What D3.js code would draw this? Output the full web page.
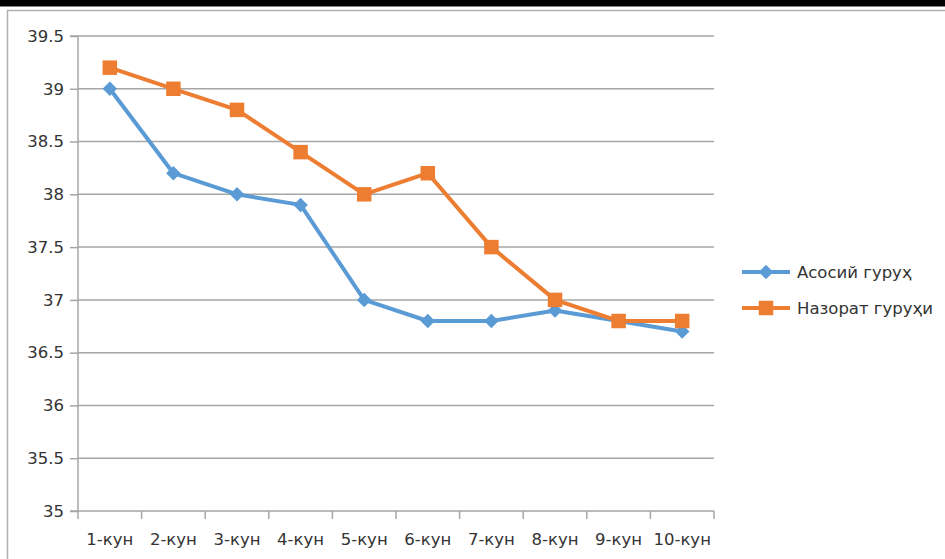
<!DOCTYPE html>
<html>
<head>
<meta charset="utf-8">
<script src="https://cdn.jsdelivr.net/npm/d3@7"></script>
<style>
  html, body { margin: 0; padding: 0; background: #fff; }
  svg { display: block; }
</style>
</head>
<body>
<svg id="chart" width="945" height="559"></svg>
<script>
// Daily temperature readings for the two groups
const days = ["1-кун", "2-кун", "3-кун", "4-кун", "5-кун", "6-кун", "7-кун", "8-кун", "9-кун", "10-кун"];
const mainGroup = [39.0, 38.2, 38.0, 37.9, 37.0, 36.8, 36.8, 36.9, 36.8, 36.7];
const controlGroup = [39.2, 39.0, 38.8, 38.4, 38.0, 38.2, 37.5, 37.0, 36.8, 36.8];
const yTicks = [35, 35.5, 36, 36.5, 37, 37.5, 38, 38.5, 39, 39.5];
const seriesNames = ["Асосий гуруҳ", "Назорат гуруҳи"];

const blue = "#5B9BD5";
const orange = "#ED7D31";
const gridColor = "#a6a6a6";
const textColor = "#333333";
const font = "'DejaVu Sans', Verdana, sans-serif";
const fontSize = "16.5px";

const svg = d3.select("#chart");

// page frame: heavy rule on top, thin chart border below it
svg.append("rect").attr("x", 0).attr("y", 0).attr("width", 945).attr("height", 6.5).attr("fill", "#000");
svg.append("path")
  .attr("d", "M7.5,559 V10.5 H945")
  .attr("fill", "none").attr("stroke", "#b0b0b0").attr("stroke-width", 1.5);

const plotLeft = 78, plotRight = 714, plotTop = 36, plotBottom = 511;

const x = d3.scaleBand().domain(days).range([plotLeft, plotRight]).paddingInner(0).paddingOuter(0);
const y = d3.scaleLinear().domain([35, 39.5]).range([plotBottom, plotTop]);

// horizontal gridlines
svg.append("g")
  .selectAll("line")
  .data(yTicks.filter(t => t !== 35))
  .join("line")
  .attr("x1", plotLeft).attr("x2", plotRight)
  .attr("y1", d => y(d)).attr("y2", d => y(d))
  .attr("stroke", gridColor).attr("stroke-width", 1.5);

// y axis
const yAxis = d3.axisLeft(y).tickValues(yTicks).tickSize(8).tickPadding(6)
  .tickFormat(d => d3.format("")(d));
const gy = svg.append("g").attr("transform", `translate(${plotLeft},0)`).call(yAxis);
gy.select(".domain").attr("stroke", gridColor).attr("stroke-width", 1.5).attr("d", `M-8,${plotTop}H0V${plotBottom}H-8`);
gy.selectAll(".tick line").attr("stroke", gridColor).attr("stroke-width", 1.5);
gy.selectAll(".tick text").attr("fill", textColor).style("font-family", font).style("font-size", fontSize);

// x axis with ticks on category boundaries
const gx = svg.append("g").attr("transform", `translate(0,${plotBottom})`);
gx.append("line").attr("x1", plotLeft).attr("x2", plotRight).attr("y1", 0).attr("y2", 0)
  .attr("stroke", gridColor).attr("stroke-width", 1.5);
const bounds = days.map(d => x(d)).concat([x(days[days.length - 1]) + x.bandwidth()]);
gx.selectAll("line.tk").data(bounds).join("line").attr("class", "tk")
  .attr("x1", d => d).attr("x2", d => d).attr("y1", 0).attr("y2", 8)
  .attr("stroke", gridColor).attr("stroke-width", 1.5);
gx.selectAll("text").data(days).join("text")
  .attr("x", d => x(d) + x.bandwidth() / 2).attr("y", 34)
  .attr("text-anchor", "middle").attr("fill", textColor)
  .style("font-family", font).style("font-size", fontSize)
  .text(d => d);

const line = d3.line().x((d, i) => x(days[i]) + x.bandwidth() / 2).y(d => y(d));

// markers: a square, or the same square turned 45° for a diamond
function marker(sel, color, shape) {
  const isDiamond = shape === "diamond";
  sel.attr("d", d3.symbol().type(d3.symbolSquare).size(isDiamond ? 105 : 210))
    .attr("fill", color);
  return isDiamond ? " rotate(45)" : "";
}

function drawSeries(values, color, shape) {
  svg.append("path").datum(values).attr("d", line)
    .attr("fill", "none").attr("stroke", color).attr("stroke-width", 4)
    .attr("stroke-linejoin", "round");
  const pts = svg.append("g").selectAll("path").data(values).join("path");
  const rot = marker(pts, color, shape);
  pts.attr("transform", (d, i) => `translate(${x(days[i]) + x.bandwidth() / 2},${y(d)})${rot}`);
}

drawSeries(mainGroup, blue, "diamond");
drawSeries(controlGroup, orange, "square");

// legend
const legend = svg.append("g");
const legendItems = [
  { name: seriesNames[0], color: blue, shape: "diamond", y: 272 },
  { name: seriesNames[1], color: orange, shape: "square", y: 308 }
];
legendItems.forEach(it => {
  legend.append("line").attr("x1", 742).attr("x2", 790).attr("y1", it.y).attr("y2", it.y)
    .attr("stroke", it.color).attr("stroke-width", 4);
  const m = legend.append("path");
  const rot = marker(m, it.color, it.shape);
  m.attr("transform", `translate(766,${it.y})${rot}`);
  legend.append("text").attr("x", 797).attr("y", it.y + 6)
    .attr("fill", textColor).style("font-family", font).style("font-size", fontSize)
    .text(it.name);
});
</script>
</body>
</html>
